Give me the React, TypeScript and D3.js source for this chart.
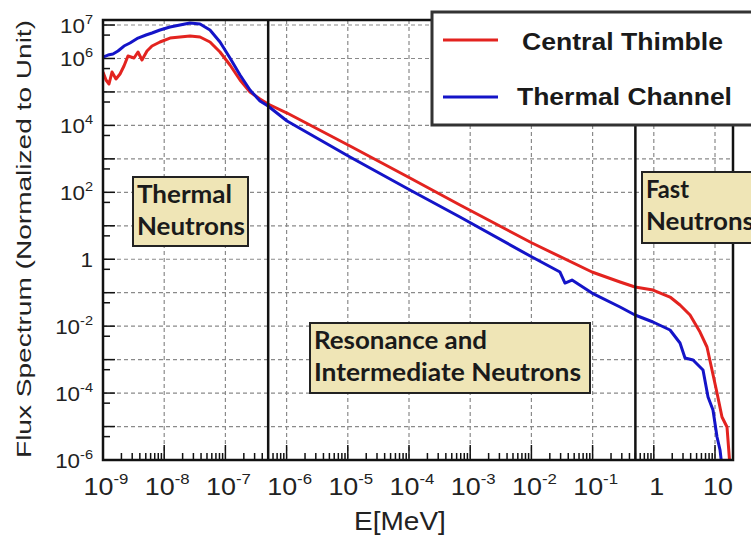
import React from 'react';
import * as d3 from 'd3';

const W = 751;
const H = 538;
const margin = { left: 103, right: 18, top: 20, bottom: 78 };

// log10 of energy (MeV) and of the flux
const thimbleLogE = [
  -9.0, -8.951, -8.902, -8.853, -8.788, -8.722, -8.657, -8.592, -8.493, -8.428, -8.363, -8.281,
  -8.199, -8.069, -7.905, -7.742, -7.578, -7.415, -7.252, -7.088, -6.925, -6.761, -6.598, -6.435,
  -6.304, -5.993, -4.964, -3.984, -3.167, -1.99, -1.01, -0.552, -0.307, -0.013, 0.265, 0.428,
  0.592, 0.755, 0.869, 0.951, 1.033, 1.114, 1.196, 1.245,
];
const thimbleLogFlux = [
  5.595, 5.356, 5.237, 5.595, 5.386, 5.536, 5.775, 6.074, 6.014, 6.193, 5.954, 6.223,
  6.372, 6.492, 6.611, 6.641, 6.671, 6.641, 6.492, 6.193, 5.805, 5.356, 4.998, 4.788,
  4.639, 4.37, 3.384, 2.427, 1.621, 0.485, -0.382, -0.681, -0.83, -0.92, -1.129, -1.368,
  -1.667, -2.175, -2.623, -3.311, -3.998, -4.715, -5.014, -6.2,
];

const channelLogE = [
  -9.0, -8.918, -8.837, -8.755, -8.657, -8.559, -8.428, -8.297, -8.199, -8.069, -7.905, -7.742,
  -7.578, -7.415, -7.252, -7.088, -6.925, -6.761, -6.598, -6.435, -6.304, -5.993, -4.964, -3.984,
  -3.167, -1.99, -1.533, -1.451, -1.337, -1.01, -0.552, -0.307, -0.013, 0.265, 0.428, 0.51,
  0.641, 0.804, 0.886, 0.967, 1.033, 1.082, 1.114,
];
const channelLogFlux = [
  6.044, 6.103, 6.133, 6.223, 6.372, 6.462, 6.611, 6.701, 6.761, 6.851, 6.94, 7.0,
  7.06, 7.03, 6.851, 6.492, 6.014, 5.506, 5.057, 4.729, 4.579, 4.131, 3.055, 2.069,
  1.262, 0.066, -0.382, -0.711, -0.621, -1.01, -1.428, -1.667, -1.876, -2.115, -2.504, -2.952,
  -3.012, -3.311, -4.118, -4.506, -5.313, -5.702, -6.2,
];

const xTickExps = [-9, -8, -7, -6, -5, -4, -3, -2, -1, 0, 1];
const yGridExps = [-6, -5, -4, -3, -2, -1, 0, 1, 2, 3, 4, 5, 6, 7];
const yLabelExps = [-6, -4, -2, 0, 2, 4, 6, 7];
const cuts = [5e-7, 0.5];

const seriesList = [
  { name: 'Central Thimble', color: '#e3231f', logE: thimbleLogE, logF: thimbleLogFlux },
  { name: 'Thermal Channel', color: '#1414c8', logE: channelLogE, logF: channelLogFlux },
];

const regions = [
  { lines: ['Thermal', 'Neutrons'], x: 133, y: 177, w: 115, h: 69, widths: [95, 108] },
  { lines: ['Resonance and', 'Intermediate Neutrons'], x: 310, y: 323, w: 280, h: 70, widths: [173, 267] },
  { lines: ['Fast', 'Neutrons'], x: 642, y: 172, w: 130, h: 71, widths: [43, 108] },
];

const axisFont = '"Liberation Sans", Arial, sans-serif';
const boxFont = 'Lato, "Open Sans", sans-serif';

export default function App() {
  const x = d3.scaleLog().domain([1e-9, 10 ** 1.294]).range([margin.left, W - margin.right]);
  const y = d3.scaleLog().domain([1e-6, 10 ** 7.15]).range([H - margin.bottom, margin.top]);
  const [x0, x1] = x.range();
  const [yb, yt] = y.range();

  const line = d3
    .line<[number, number]>()
    .x((d) => x(10 ** d[0]))
    .y((d) => y(10 ** d[1]));

  const xMinor: number[] = [];
  xTickExps.forEach((e) => {
    for (let k = 2; k <= 9; k++) {
      const v = k * 10 ** e;
      if (v < x.domain()[1]) xMinor.push(v);
    }
  });

  const sup = (e: number) => (e === 0 ? '' : String(e));

  return (
    <svg width={W} height={H} style={{ position: 'absolute', left: 0, top: 0, background: '#fff' }}>
      <defs>
        <clipPath id="plot">
          <rect x={x0} y={yt} width={x1 - x0} height={yb - yt} />
        </clipPath>
      </defs>

      {/* grid */}
      <g stroke="#8a8a8a" strokeWidth={1.2} strokeDasharray="4,3">
        {xTickExps.slice(1).map((e) => (
          <line key={'gx' + e} x1={x(10 ** e)} x2={x(10 ** e)} y1={yt} y2={yb} />
        ))}
        {yGridExps.slice(1).map((e) => (
          <line key={'gy' + e} x1={x0} x2={x1} y1={y(10 ** e)} y2={y(10 ** e)} />
        ))}
      </g>

      {/* ticks */}
      <g stroke="#111" strokeWidth={1.5}>
        {xTickExps.map((e) => (
          <line key={'tx' + e} x1={x(10 ** e)} x2={x(10 ** e)} y1={yb} y2={yb - 15} />
        ))}
        {xMinor.map((v, i) => (
          <line key={'mx' + i} x1={x(v)} x2={x(v)} y1={yb} y2={yb - 7} />
        ))}
        {yGridExps.map((e) => (
          <line key={'ty' + e} x1={x0} x2={x0 + 12} y1={y(10 ** e)} y2={y(10 ** e)} />
        ))}
        {yGridExps.slice(0, -1).map((e) => (
          <line key={'my' + e} x1={x0} x2={x0 + 7} y1={y(5 * 10 ** e)} y2={y(5 * 10 ** e)} />
        ))}
      </g>

      {/* spectra */}
      <g clipPath="url(#plot)" fill="none" strokeWidth={3} strokeLinejoin="round">
        {seriesList.map((s) => (
          <path
            key={s.name}
            d={line(s.logE.map((v, i) => [v, s.logF[i]] as [number, number])) || ''}
            stroke={s.color}
          />
        ))}
      </g>

      {/* region cuts */}
      <g stroke="#111" strokeWidth={2.5}>
        {cuts.map((c) => (
          <line key={c} x1={x(c)} x2={x(c)} y1={yt} y2={yb} />
        ))}
      </g>

      {/* frame */}
      <rect x={x0} y={yt} width={x1 - x0} height={yb - yt} fill="none" stroke="#111" strokeWidth={2.5} />

      {/* region labels */}
      {regions.map((r) => (
        <g key={r.lines[0]}>
          <rect x={r.x} y={r.y} width={r.w} height={r.h} fill="#efe5b6" stroke="#222" strokeWidth={2} />
          {r.lines.map((t, i) => (
            <text
              key={t}
              x={r.x + 4}
              y={r.y + 26 + i * 32}
              fontFamily={boxFont}
              fontWeight="bold"
              fontSize={24}
              fill="#1a1a1a"
              textLength={r.widths[i]}
              lengthAdjust="spacingAndGlyphs"
            >
              {t}
            </text>
          ))}
        </g>
      ))}

      {/* y tick labels */}
      <g fontFamily={axisFont} fill="#222">
        {yLabelExps.map((e) => (
          <text
            key={'ly' + e}
            transform={`translate(93,${y(10 ** e) + 8}) scale(1.12,1)`}
            textAnchor="end"
            fontSize={20}
          >
            {e === 0 ? (
              '1'
            ) : (
              <>
                <tspan>10</tspan>
                <tspan dy={-9} fontSize={13}>
                  {sup(e)}
                </tspan>
              </>
            )}
          </text>
        ))}
      </g>

      {/* x tick labels */}
      <g fontFamily={axisFont} fill="#222">
        {xTickExps.map((e) => (
          <text
            key={'lx' + e}
            transform={`translate(${x(10 ** e) + 3},495) scale(1.12,1)`}
            textAnchor="middle"
            fontSize={24}
          >
            {e === 0 ? (
              '1'
            ) : e === 1 ? (
              '10'
            ) : (
              <>
                <tspan>10</tspan>
                <tspan dy={-11} fontSize={15}>
                  {sup(e)}
                </tspan>
              </>
            )}
          </text>
        ))}
      </g>

      {/* axis titles */}
      <text
        transform="translate(400,530) scale(1.12,1)"
        textAnchor="middle"
        fontFamily={axisFont}
        fontSize={25}
        fill="#222"
      >
        E[MeV]
      </text>
      <text
        transform="translate(31,458) rotate(-90)"
        fontFamily={axisFont}
        fontSize={21}
        fill="#222"
        textLength={438}
        lengthAdjust="spacingAndGlyphs"
      >
        Flux Spectrum (Normalized to Unit)
      </text>

      {/* legend */}
      <g>
        <rect x={432} y={12} width={330} height={113} fill="#fff" stroke="#333" strokeWidth={3} />
        {seriesList.map((s, i) => (
          <g key={'lg' + s.name}>
            <line x1={443} x2={498} y1={40 + i * 57} y2={40 + i * 57} stroke={s.color} strokeWidth={3} />
            <text
              x={i === 0 ? 522 : 517}
              y={50 + i * 55}
              fontFamily={axisFont}
              fontWeight="bold"
              fontSize={23}
              fill="#1a1a1a"
              textLength={i === 0 ? 201 : 215}
              lengthAdjust="spacingAndGlyphs"
            >
              {s.name}
            </text>
          </g>
        ))}
      </g>
    </svg>
  );
}
